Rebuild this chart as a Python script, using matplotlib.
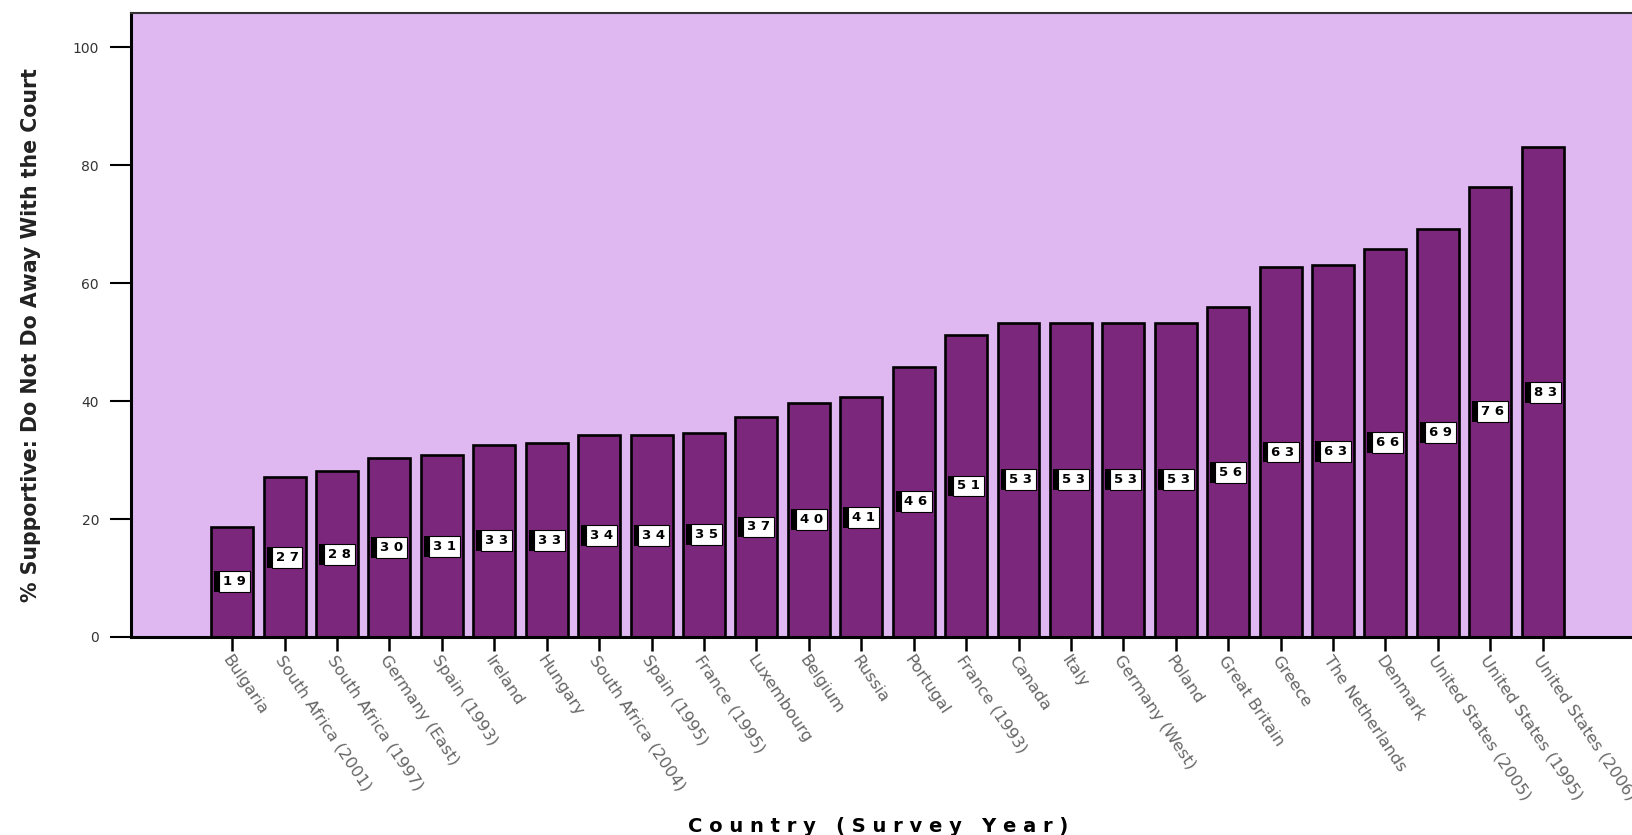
import matplotlib
matplotlib.use("Agg")
import matplotlib.pyplot as plt
import matplotlib.patheffects as pe

countries = ["Bulgaria", "South Africa (2001)", "South Africa (1997)", "Germany (East)",
             "Spain (1993)", "Ireland", "Hungary", "South Africa (2004)", "Spain (1995)",
             "France (1995)", "Luxembourg", "Belgium", "Russia", "Portugal", "France (1993)",
             "Canada", "Italy", "Germany (West)", "Poland", "Great Britain", "Greece",
             "The Netherlands", "Denmark", "United States (2005)", "United States (1995)",
             "United States (2006)"]
values = [18.7, 27.1, 28.1, 30.4, 30.8, 32.6, 32.8, 34.3, 34.3, 34.6, 37.3, 39.7, 40.6,
          45.8, 51.2, 53.3, 53.3, 53.3, 53.3, 55.9, 62.7, 63.0, 65.8, 69.2, 76.3, 83.0]
labels = ["19", "27", "28", "30", "31", "33", "33", "34", "34", "35", "37", "40", "41",
          "46", "51", "53", "53", "53", "53", "56", "63", "63", "66", "69", "76", "83"]
yticks = [0, 20, 40, 60, 80, 100]

W, H = 1632, 835
fig = plt.figure(figsize=(W / 100, H / 100), dpi=100, facecolor="white")
ax = fig.add_axes([131 / W, (H - 637) / H, (1700 - 131) / W, 624.5 / H])
ax.set_facecolor("#DFB8F2")

x = list(range(len(values)))
ax.bar(x, values, width=0.8, color="#7B287C", edgecolor="black", linewidth=1.9, zorder=2)

for xi, v, lab in zip(x, values, labels):
    t = ax.annotate(" ".join(lab), (xi, v / 2), xytext=(1.7, 0), textcoords="offset points",
                    ha="center", va="center", fontsize=9.5, color="black",
                    family="DejaVu Sans", fontweight="bold",
                    bbox=dict(boxstyle="square,pad=0.3", fc="white", ec="black", lw=0.8),
                    zorder=4)
    t.get_bbox_patch().set_path_effects([
        pe.SimplePatchShadow(offset=(-3.5, 0), shadow_rgbFace="black", alpha=1.0),
        pe.Normal()])

ax.set_xlim(-1.93, 28.0)
ax.set_ylim(0, 105.85)
ax.set_yticks(yticks)
ax.set_yticklabels([str(t) for t in yticks], fontsize=10, color="#333333")
ax.set_xticks(x)
ax.set_xticklabels(countries, rotation=-56, ha="left", va="top", rotation_mode="anchor",
                   fontsize=11.8, color="#666666")
ax.tick_params(axis="y", direction="out", length=15, width=1.5, pad=8, color="black")
ax.tick_params(axis="x", direction="out", length=10, width=1.8, pad=1.5, color="black")

for s in ["left", "bottom"]:
    ax.spines[s].set_linewidth(2.2)
    ax.spines[s].set_color("black")
ax.spines["top"].set_linewidth(1.5)
ax.spines["top"].set_color("#333333")
ax.spines["right"].set_visible(False)

fig.text(878 / W, 1 - 826 / H, "C o u n t r y   ( S u r v e y   Y e a r )",
         ha="center", va="center", fontsize=14, fontweight="bold", color="black")
fig.text(31 / W, 1 - 335 / H, "% Supportive: Do Not Do Away With the Court",
         ha="center", va="center", rotation=90, fontsize=14.8, fontweight="bold",
         family="DejaVu Sans", color="#222222")

fig.savefig("out.png", dpi=100, facecolor="white")
